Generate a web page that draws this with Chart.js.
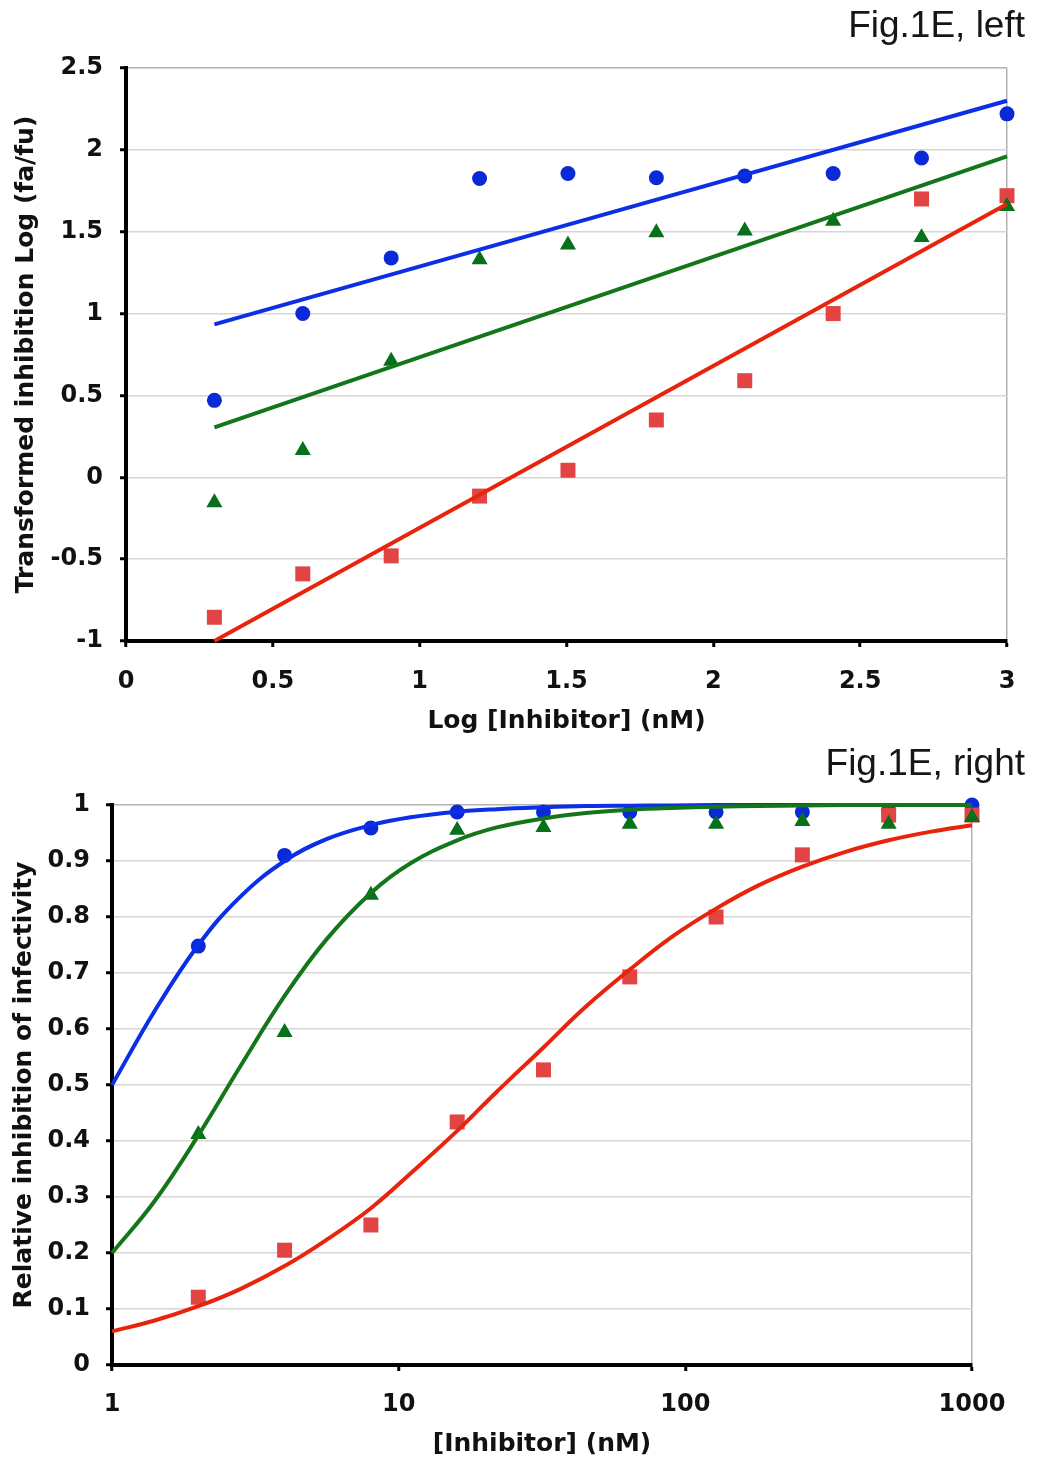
<!DOCTYPE html>
<html>
<head>
<meta charset="utf-8">
<title>Fig.1E</title>
<script src="https://cdn.jsdelivr.net/npm/chart.js@4.4.1/dist/chart.umd.min.js"></script>
<style>
  html, body { margin: 0; padding: 0; background: #fff; }
  #page { position: relative; width: 1037px; height: 1459px; }
  canvas { position: absolute; left: 0; display: block; }
  #left { top: 0; }
  #right { top: 740px; }
</style>
</head>
<body>
<div id="page">
  <canvas id="left" width="1037" height="740"></canvas>
  <canvas id="right" width="1037" height="719"></canvas>
</div>
<script>
// ---- left panel: log-transformed inhibition vs log dose ----
var logDose = [0.301, 0.602, 0.903, 1.204, 1.505, 1.806, 2.107, 2.408, 2.709, 3.0];
var leftBlue = [0.47, 1.0, 1.34, 1.825, 1.856, 1.83, 1.84, 1.856, 1.95, 2.22];
var leftGreen = [-0.155, 0.165, 0.71, 1.33, 1.42, 1.495, 1.505, 1.565, 1.465, 1.655];
var leftRed = [-0.855, -0.59, -0.48, -0.115, 0.043, 0.35, 0.59, 1.0, 1.70, 1.72];

// straight fit lines, two end points each
var fitDose = [0.301, 3.0];
var leftBlueFit = [0.934, 2.30];
var leftGreenFit = [0.305, 1.96];
var leftRedFit = [-1.0, 1.67];

var leftXTicks = [0, 0.5, 1, 1.5, 2, 2.5, 3];
var leftYTicks = [-1, -0.5, 0, 0.5, 1, 1.5, 2, 2.5];

// ---- right panel: relative inhibition vs dose ----
var dose = [2, 4, 8, 16, 32, 64, 128, 256, 512, 1000];
var rightBlue = [0.748, 0.91, 0.959, 0.9875, 0.9875, 0.9875, 0.9875, 0.9875, 0.99, 1.0];
var rightGreen = [0.412, 0.594, 0.839, 0.955, 0.96, 0.966, 0.966, 0.971, 0.966, 0.978];
var rightRed = [0.121, 0.205, 0.25, 0.434, 0.527, 0.693, 0.80, 0.911, 0.982, 0.982];

// dose-response curves
var curveDose = [1, 1.4, 2, 2.8, 4, 5.6, 8, 11, 16, 22, 32, 45, 64, 90, 128, 180, 256, 360, 512, 720, 1000];
var rightBlueCurve = [0.50, 0.63, 0.75, 0.836, 0.90, 0.939, 0.964, 0.978, 0.988, 0.9926, 0.9959, 0.998, 0.9987, 0.9992, 1.0, 1.0, 1.0, 1.0, 1.0, 1.0, 1.0];
var rightGreenCurve = [0.20, 0.291, 0.41, 0.533, 0.659, 0.76, 0.843, 0.896, 0.937, 0.96, 0.976, 0.9856, 0.9914, 0.9948, 0.997, 0.998, 0.999, 1.0, 1.0, 1.0, 1.0];
var rightRedCurve = [0.06, 0.079, 0.105, 0.1356, 0.1766, 0.2235, 0.28, 0.342, 0.418, 0.488, 0.567, 0.64, 0.706, 0.765, 0.815, 0.8565, 0.89, 0.916, 0.937, 0.9525, 0.964];

var rightXTicks = [1, 10, 100, 1000];
var rightYTicks = [0, 0.1, 0.2, 0.3, 0.4, 0.5, 0.6, 0.7, 0.8, 0.9, 1];

var BLUE = '#0a2ad8', BLUE_LINE = '#0b2ee6';
var GREEN = '#07701a', GREEN_LINE = '#14761a';
var RED = '#e24343', RED_LINE = '#e8240c';
var GRID = '#d6d6d6', EDGE = '#b2b2b2';

var tickFont = { family: 'DejaVu Sans', size: 24, weight: 'bold' };
var titleFont = { family: 'DejaVu Sans', size: 25, weight: 'bold' };

function pts(xs, ys) {
    return xs.map(function (x, i) { return { x: x, y: ys[i] }; });
}

function markers(data, color, style, radius) {
    return {
        data: data,
        showLine: false,
        pointStyle: style,
        pointRadius: radius,
        pointHoverRadius: radius,
        pointBackgroundColor: color,
        pointBorderColor: color,
        pointBorderWidth: 0,
        clip: false
    };
}

function curve(data, color) {
    return {
        data: data,
        showLine: true,
        pointRadius: 0,
        pointHoverRadius: 0,
        borderColor: color,
        borderWidth: 4,
        fill: false,
        tension: 0.4,
        clip: false
    };
}

// figure caption in the top right corner
var figLabel = {
    id: 'figLabel',
    afterDraw: function (chart, args, opts) {
        var ctx = chart.ctx;
        ctx.save();
        ctx.font = '37px "Liberation Sans", Arial, sans-serif';
        ctx.fillStyle = '#161616';
        ctx.textAlign = 'right';
        ctx.textBaseline = 'middle';
        ctx.fillText(opts.text, chart.width - 12, opts.y);
        ctx.restore();
    }
};

function axisX(o) {
    return {
        type: o.type,
        min: o.min,
        max: o.max,
        afterFit: function (s) { s.height = o.height; },
        afterBuildTicks: function (s) { s.ticks = o.ticks.map(function (v) { return { value: v }; }); },
        ticks: {
            font: tickFont, color: '#111', padding: o.pad, maxRotation: 0, autoSkip: false,
            callback: function (v) { return String(v); }
        },
        grid: {
            drawOnChartArea: true,
            color: function (c) { return c.tick && c.tick.value === o.max ? EDGE : 'rgba(0,0,0,0)'; },
            lineWidth: 1.5,
            tickColor: '#000', tickLength: 6, tickWidth: 3
        },
        border: { color: '#000', width: 4 },
        title: { display: true, text: o.title, font: titleFont, color: '#111', padding: { top: 0, bottom: o.titlePad } }
    };
}

function axisY(o) {
    return {
        min: o.min,
        max: o.max,
        afterFit: function (s) { s.width = o.width; },
        afterBuildTicks: function (s) { s.ticks = o.ticks.map(function (v) { return { value: v }; }); },
        ticks: {
            font: tickFont, color: '#111', padding: o.pad, autoSkip: false,
            callback: function (v) { return String(+v.toFixed(1)); }
        },
        grid: {
            color: function (c) { return c.tick && c.tick.value === o.max ? EDGE : GRID; },
            lineWidth: 1.5,
            tickColor: '#000', tickLength: 6, tickWidth: 3
        },
        border: { color: '#000', width: 4 },
        title: { display: true, text: o.title, font: titleFont, color: '#111', padding: { top: o.titlePad, bottom: 0 } }
    };
}

function baseOptions(padding, scales, label) {
    return {
        responsive: false,
        animation: false,
        events: [],
        layout: { padding: padding },
        scales: scales,
        plugins: {
            legend: { display: false },
            tooltip: { enabled: false },
            figLabel: label
        }
    };
}

window.addEventListener('load', function () {
    drawLeft();
    drawRight();
});

function drawLeft() {
    new Chart(document.getElementById('left').getContext('2d'), {
        type: 'scatter',
        data: {
            datasets: [
                curve(pts(fitDose, leftRedFit), RED_LINE),
                curve(pts(fitDose, leftGreenFit), GREEN_LINE),
                curve(pts(fitDose, leftBlueFit), BLUE_LINE),
                markers(pts(logDose, leftGreen), GREEN, 'triangle', 9.3),
                markers(pts(logDose, leftRed), RED, 'rect', 10.6),
                markers(pts(logDose, leftBlue), BLUE, 'circle', 7.5)
            ]
        },
        options: baseOptions(
            { top: 68, right: 30, left: 0, bottom: 0 },
            {
                x: axisX({ type: 'linear', min: 0, max: 3, height: 99, ticks: leftXTicks, pad: 20,
                           title: 'Log [Inhibitor] (nM)', titlePad: 4 }),
                y: axisY({ min: -1, max: 2.5, width: 126, ticks: leftYTicks, pad: 17,
                           title: 'Transformed inhibition Log (fa/fu)', titlePad: 11 })
            },
            { text: 'Fig.1E, left', y: 27 }
        ),
        plugins: [figLabel]
    });
}

function drawRight() {
    new Chart(document.getElementById('right').getContext('2d'), {
        type: 'scatter',
        data: {
            datasets: [
                curve(pts(curveDose, rightRedCurve), RED_LINE),
                curve(pts(curveDose, rightGreenCurve), GREEN_LINE),
                curve(pts(curveDose, rightBlueCurve), BLUE_LINE),
                markers(pts(dose, rightGreen), GREEN, 'triangle', 9.3),
                markers(pts(dose, rightRed), RED, 'rect', 10.6),
                markers(pts(dose, rightBlue), BLUE, 'circle', 7.5)
            ]
        },
        options: baseOptions(
            { top: 65, right: 65, left: 0, bottom: 0 },
            {
                x: axisX({ type: 'logarithmic', min: 1, max: 1000, height: 94, ticks: rightXTicks, pad: 19,
                           title: '[Inhibitor] (nM)', titlePad: 0 }),
                y: axisY({ min: 0, max: 1, width: 112, ticks: rightYTicks, pad: 16,
                           title: 'Relative inhibition of infectivity', titlePad: 9 })
            },
            { text: 'Fig.1E, right', y: 25 }
        ),
        plugins: [figLabel]
    });
}
</script>
</body>
</html>
